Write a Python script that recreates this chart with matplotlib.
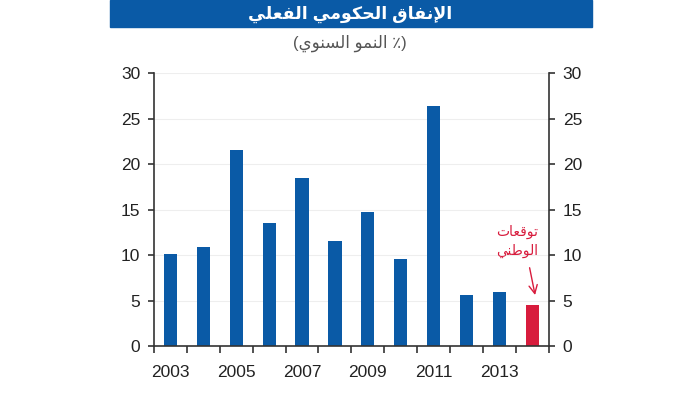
import matplotlib
matplotlib.use('Agg')
import matplotlib.pyplot as plt
from matplotlib.patches import Rectangle

plt.rcParams['font.family'] = ['Liberation Sans', 'DejaVu Sans']

# البيانات
years = [2003, 2004, 2005, 2006, 2007, 2008, 2009, 2010, 2011, 2012, 2013, 2014]
growth = [10.1, 10.9, 21.5, 13.5, 18.5, 11.5, 14.7, 9.6, 26.4, 5.6, 5.9, 4.5]
forecast_year = 2014
labelled_years = [2003, 2005, 2007, 2009, 2011, 2013]
y_ticks = [0, 5, 10, 15, 20, 25, 30]

title = 'الإنفاق الحكومي الفعلي'
subtitle = '(٪ النمو السنوي)'
note_lines = ['توقعات', 'الوطني']

# matplotlib لا يربط الحروف العربية، لذلك نحولها لأشكال العرض يدويا
# (معزول، نهائي، ابتدائي، وسطي)
FORMS = {
    'ا': ('\uFE8D', '\uFE8E', None, None),
    'إ': ('\uFE87', '\uFE88', None, None),
    'و': ('\uFEED', '\uFEEE', None, None),
    'ل': ('\uFEDD', '\uFEDE', '\uFEDF', '\uFEE0'),
    'ن': ('\uFEE5', '\uFEE6', '\uFEE7', '\uFEE8'),
    'ف': ('\uFED1', '\uFED2', '\uFED3', '\uFED4'),
    'ق': ('\uFED5', '\uFED6', '\uFED7', '\uFED8'),
    'ح': ('\uFEA1', '\uFEA2', '\uFEA3', '\uFEA4'),
    'ك': ('\uFED9', '\uFEDA', '\uFEDB', '\uFEDC'),
    'م': ('\uFEE1', '\uFEE2', '\uFEE3', '\uFEE4'),
    'ي': ('\uFEF1', '\uFEF2', '\uFEF3', '\uFEF4'),
    'ع': ('\uFEC9', '\uFECA', '\uFECB', '\uFECC'),
    'ت': ('\uFE95', '\uFE96', '\uFE97', '\uFE98'),
    'ط': ('\uFEC1', '\uFEC2', '\uFEC3', '\uFEC4'),
    'س': ('\uFEB1', '\uFEB2', '\uFEB3', '\uFEB4'),
}
LAM_ALEF = {'ا': ('\uFEFB', '\uFEFC'), 'إ': ('\uFEF9', '\uFEFA')}


def joins_next(c):
    return c in FORMS and FORMS[c][2] is not None


def shape(text):
    out = []
    i = 0
    n = len(text)
    while i < n:
        c = text[i]
        if c not in FORMS:
            out.append(c)
            i += 1
            continue
        join_prev = i > 0 and joins_next(text[i - 1])
        if c == 'ل' and i + 1 < n and text[i + 1] in LAM_ALEF:
            out.append(LAM_ALEF[text[i + 1]][1 if join_prev else 0])
            i += 2
            continue
        join_nxt = joins_next(c) and i + 1 < n and text[i + 1] in FORMS
        iso, fin, ini, med = FORMS[c]
        if join_prev and join_nxt:
            out.append(med)
        elif join_prev:
            out.append(fin)
        elif join_nxt:
            out.append(ini)
        else:
            out.append(iso)
        i += 1
    vis = ''.join(out)[::-1]
    return vis.translate(str.maketrans('()', ')('))


blue = '#0a5aa6'
red = '#d81c3d'
colors = [red if y == forecast_year else blue for y in years]
pos = list(range(len(years)))

fig = plt.figure(figsize=(7, 3.93), dpi=100)
ax = fig.add_axes([0.22, 0.1196, 0.564, 0.6946])

for v in y_ticks[1:]:
    ax.axhline(v, color='#eeeeee', lw=0.8, zorder=0)
ax.bar(pos, growth, width=0.4, color=colors, zorder=2)

ax.set_xlim(-0.5, len(years) - 0.5)
ax.set_ylim(0, 30)
ax.set_yticks(y_ticks)
ax.set_xticks([years.index(y) for y in labelled_years])
ax.set_xticklabels([str(y) for y in labelled_years])
ax.set_xticks([p - 0.5 for p in pos] + [len(years) - 0.5], minor=True)

ax.spines['top'].set_visible(False)
for s in ['left', 'right', 'bottom']:
    ax.spines[s].set_color('#333333')
    ax.spines[s].set_linewidth(1.2)

ax.tick_params(axis='y', which='major', left=True, right=True, labelleft=True, labelright=True,
               length=4, width=1.2, color='#333333', labelsize=12.5, labelcolor='#222222', pad=6)
ax.tick_params(axis='x', which='major', length=0, labelsize=12.5, labelcolor='#222222', pad=14)
ax.tick_params(axis='x', which='minor', length=5, width=1.2, color='#333333')

# ملاحظة التوقعات
ax.text(10.55, 11.5, shape(note_lines[0]) + '\n' + shape(note_lines[1]), color=red,
        fontsize=10, ha='center', va='center', linespacing=1.5)
ax.annotate('', xy=(11.1, 5.3), xytext=(10.9, 8.9),
            arrowprops=dict(arrowstyle='->,head_length=0.6,head_width=0.3', color=red, lw=1.0))

# شريط العنوان
fig.patches.append(Rectangle((0.157, 0.931), 0.689, 0.069, transform=fig.transFigure,
                             color=blue, zorder=0))
fig.text(0.5, 0.963, shape(title), color='white', fontsize=12.5, fontweight='bold',
         ha='center', va='center')
fig.text(0.5, 0.89, shape(subtitle), color='#555555', fontsize=12, ha='center', va='center')

fig.savefig('out.png', dpi=100)
